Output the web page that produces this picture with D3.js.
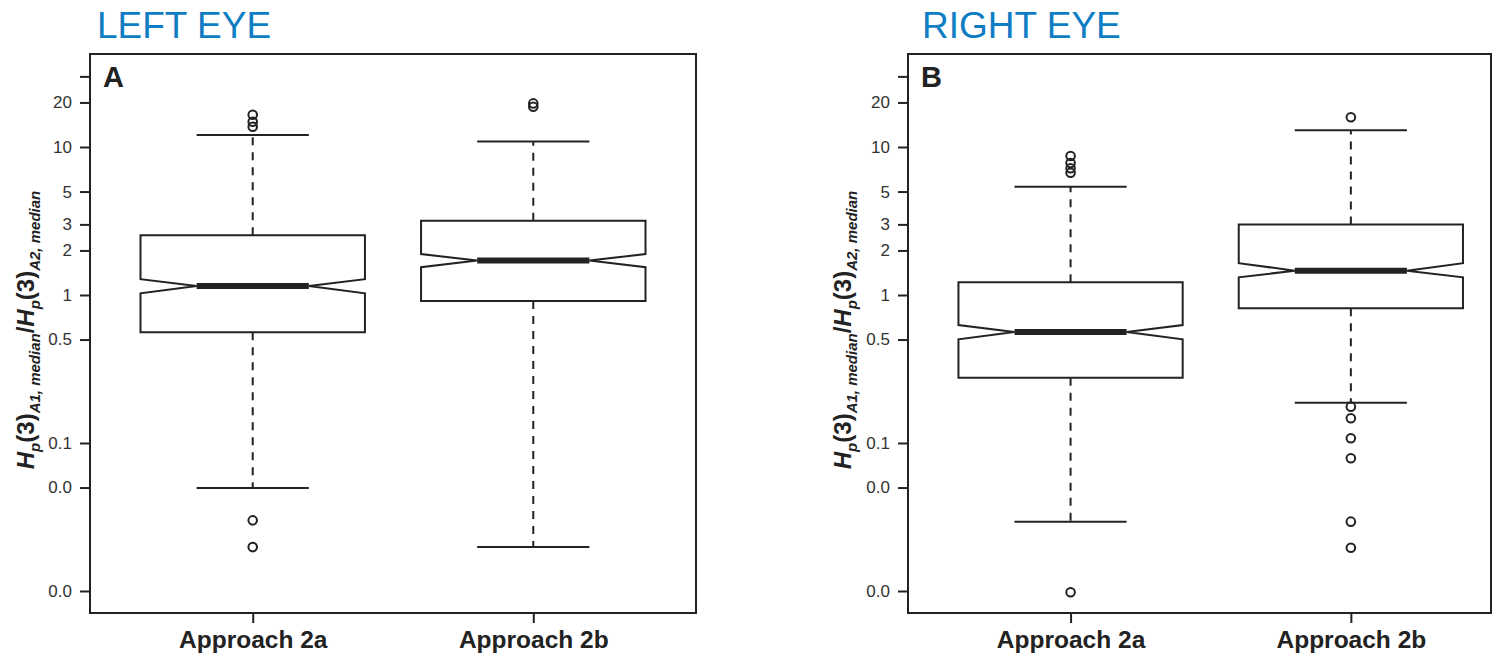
<!DOCTYPE html>
<html><head><meta charset="utf-8">
<script src="https://cdn.jsdelivr.net/npm/d3@7"></script>
<style>
body{margin:0;background:#fff}
svg{display:block;font-family:"Liberation Sans",Arial,Helvetica,sans-serif}
</style>
</head><body>
<svg id="chart" width="1494" height="658"></svg>
<script>
// ---- data ----
const categories = ["Approach 2a", "Approach 2b"];
const panelTitles = ["LEFT EYE", "RIGHT EYE"];
const panelLetters = ["A", "B"];
const tickValues = [30, 20, 10, 5, 3, 2, 1, 0.5, 0.1, 0.05, 0.01];
const tickLabels = ["", "20", "10", "5", "3", "2", "1", "0.5", "0.1", "0.0", "0.0"];

// box statistics: [lower whisker, Q1, median, Q3, upper whisker]
const leftStats = [[0.0497, 0.56, 1.15, 2.53, 12.05], [0.0198, 0.91, 1.71, 3.18, 10.9]];
const leftNotch = [[1.027, 1.28], [1.54, 1.89]];
const leftOutliers = [[16.5, 14.8, 13.7, 0.030, 0.0198], [19.7, 18.7]];

const rightStats = [[0.0294, 0.276, 0.562, 1.22, 5.39], [0.187, 0.813, 1.46, 3.0, 13.0]];
const rightNotch = [[0.502, 0.627], [1.316, 1.64]];
const rightOutliers = [[8.7, 7.8, 7.18, 6.7, 0.0098], [15.9, 0.176, 0.147, 0.1076, 0.0788, 0.0294, 0.0196]];

// ---- layout ----
const svg = d3.select("#chart");
const ink = "#222";
const plotTop = 54, plotBottom = 613;

const panels = [
  {title: panelTitles[0], letter: panelLetters[0], stats: leftStats, notch: leftNotch, outliers: leftOutliers,
   x0: 90, x1: 696, xDomain: [0.42, 2.58], titleX: 97, labelX: 34},
  {title: panelTitles[1], letter: panelLetters[1], stats: rightStats, notch: rightNotch, outliers: rightOutliers,
   x0: 908, x1: 1491, xDomain: [0.42, 2.5], titleX: 922, labelX: 851}
];

panels.forEach(p => {
  const g = svg.append("g");
  const x = d3.scaleLinear().domain(p.xDomain).range([p.x0, p.x1]);
  const y = d3.scaleLog().domain([0.0071, 42.5]).range([plotBottom, plotTop]);
  const unit = x(1) - x(0);

  // panel heading
  g.append("text").attr("x", p.titleX).attr("y", 38)
    .style("font-size", "37px").style("fill", "#0e7dc4").text(p.title);

  // y axis
  const ya = g.append("g").attr("transform", `translate(${p.x0},0)`)
    .call(d3.axisLeft(y).tickValues(tickValues).tickFormat((d, i) => tickLabels[i]).tickSize(10).tickPadding(8));
  ya.select(".domain").remove();
  ya.selectAll(".tick line").attr("stroke", ink).attr("stroke-width", 2);
  ya.selectAll(".tick text").style("font-size", "17px").style("fill", "#333");

  // x axis
  const xa = g.append("g").attr("transform", `translate(0,${plotBottom})`)
    .call(d3.axisBottom(x).tickValues([1, 2]).tickFormat(d => categories[d - 1]).tickSize(10).tickPadding(8));
  xa.select(".domain").remove();
  xa.selectAll(".tick line").attr("stroke", ink).attr("stroke-width", 2);
  xa.selectAll(".tick text").style("font-size", "24.5px").style("font-weight", "bold").style("fill", "#222");

  // frame
  g.append("rect").attr("x", p.x0).attr("y", plotTop).attr("width", p.x1 - p.x0).attr("height", plotBottom - plotTop)
    .attr("fill", "none").attr("stroke", ink).attr("stroke-width", 2);

  // panel letter
  g.append("text").attr("x", p.x0 + 13).attr("y", 87)
    .style("font-size", "29px").style("font-weight", "bold").style("fill", "#222").text(p.letter);

  // y axis title
  const t = g.append("text").attr("transform", `translate(${p.labelX},330) rotate(-90)`)
    .attr("text-anchor", "middle").style("font-size", "24px").style("font-weight", "bold").style("fill", "#222");
  const parts = [["H", 0, true], ["p", 1, true], ["(3)", 0, false], ["A1, median", 1, true], ["/", 0, false],
                 ["H", 0, true], ["p", 1, true], ["(3)", 0, false], ["A2, median", 1, true]];
  let prevSub = 0;
  parts.forEach(([txt, sub, it]) => {
    const s = t.append("tspan").text(txt).attr("dy", (sub - prevSub) * 6);
    if (it) s.style("font-style", "italic");
    if (sub) s.style("font-size", "15px");
    prevSub = sub;
  });

  // boxes
  const hw = 0.4 * unit, cw = 0.2 * unit;
  p.stats.forEach((s, i) => {
    const cx = x(i + 1);
    const [lw, q1, med, q3, uw] = s;
    const [nLo, nHi] = p.notch[i];
    const bg = g.append("g");
    // dashed whiskers
    [[q3, uw], [q1, lw]].forEach(([a, b]) => {
      bg.append("line").attr("x1", cx).attr("x2", cx).attr("y1", y(a)).attr("y2", y(b))
        .attr("stroke", ink).attr("stroke-width", 2).attr("stroke-dasharray", "8,7");
    });
    // whisker caps
    [uw, lw].forEach(v => {
      bg.append("line").attr("x1", cx - cw).attr("x2", cx + cw).attr("y1", y(v)).attr("y2", y(v))
        .attr("stroke", ink).attr("stroke-width", 2);
    });
    // notched box
    const pts = [
      [cx - hw, y(q3)], [cx + hw, y(q3)], [cx + hw, y(nHi)], [cx + hw / 2, y(med)], [cx + hw, y(nLo)],
      [cx + hw, y(q1)], [cx - hw, y(q1)], [cx - hw, y(nLo)], [cx - hw / 2, y(med)], [cx - hw, y(nHi)]
    ];
    bg.append("path").attr("d", d3.line()(pts) + "Z")
      .attr("fill", "#fff").attr("stroke", ink).attr("stroke-width", 2).attr("stroke-linejoin", "miter");
    // median
    bg.append("line").attr("x1", cx - hw / 2).attr("x2", cx + hw / 2).attr("y1", y(med)).attr("y2", y(med))
      .attr("stroke", ink).attr("stroke-width", 6);
    // outliers
    bg.selectAll("circle").data(p.outliers[i]).join("circle")
      .attr("cx", cx).attr("cy", d => y(d)).attr("r", 4.3)
      .attr("fill", "none").attr("stroke", ink).attr("stroke-width", 2);
  });
});
</script>
</body></html>
